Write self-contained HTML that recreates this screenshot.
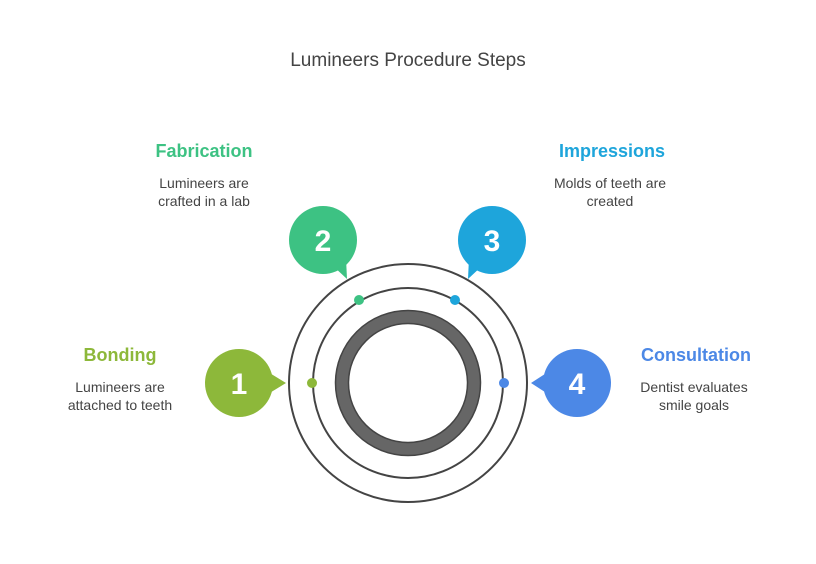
<!DOCTYPE html>
<html><head><meta charset="utf-8"><style>
html,body{margin:0;padding:0;background:#fff;}
svg{display:block;font-family:"Liberation Sans",sans-serif;}
</style></head><body>
<svg width="816" height="564" viewBox="0 0 816 564" xmlns="http://www.w3.org/2000/svg">
<text x="408" y="66" text-anchor="middle" font-size="19" fill="#444">Lumineers Procedure Steps</text>

<circle cx="408" cy="383" r="119" fill="none" stroke="#444" stroke-width="2"/>
<circle cx="408" cy="383" r="95" fill="none" stroke="#444" stroke-width="2"/>
<circle cx="408" cy="383" r="66" fill="none" stroke="#666" stroke-width="13"/>
<circle cx="408" cy="383" r="72.5" fill="none" stroke="#444" stroke-width="1.5"/>
<circle cx="408" cy="383" r="59.5" fill="none" stroke="#444" stroke-width="1.5"/>

<circle cx="312" cy="383" r="5" fill="#8DB83A"/>
<circle cx="359" cy="300" r="5" fill="#3DC283"/>
<circle cx="455" cy="300" r="5" fill="#1EA5DB"/>
<circle cx="504" cy="383" r="5" fill="#4C88E6"/>

<!-- bubble 1 -->
<circle cx="239" cy="383" r="34" fill="#8DB83A"/>
<polygon points="268,372 286,383 268,394" fill="#8DB83A"/>
<text x="239" y="394" text-anchor="middle" font-size="30" font-weight="bold" fill="#fff">1</text>
<!-- bubble 2 -->
<circle cx="323" cy="240" r="34" fill="#3DC283"/>
<polygon points="332,265 347,279 346,258" fill="#3DC283"/>
<text x="323" y="251" text-anchor="middle" font-size="30" font-weight="bold" fill="#fff">2</text>
<!-- bubble 3 -->
<circle cx="492" cy="240" r="34" fill="#1EA5DB"/>
<polygon points="483,265 468,279 469,258" fill="#1EA5DB"/>
<text x="492" y="251" text-anchor="middle" font-size="30" font-weight="bold" fill="#fff">3</text>
<!-- bubble 4 -->
<circle cx="577" cy="383" r="34" fill="#4C88E6"/>
<polygon points="548,372 531,383 548,394" fill="#4C88E6"/>
<text x="577" y="394" text-anchor="middle" font-size="30" font-weight="bold" fill="#fff">4</text>

<text x="120" y="361" text-anchor="middle" font-size="18" font-weight="bold" fill="#8DB83A">Bonding</text>
<text x="120" y="392" text-anchor="middle" font-size="14" fill="#444">Lumineers are</text>
<text x="120" y="410" text-anchor="middle" font-size="14" fill="#444">attached to teeth</text>

<text x="204" y="157" text-anchor="middle" font-size="18" font-weight="bold" fill="#3DC283">Fabrication</text>
<text x="204" y="188" text-anchor="middle" font-size="14" fill="#444">Lumineers are</text>
<text x="204" y="206" text-anchor="middle" font-size="14" fill="#444">crafted in a lab</text>

<text x="612" y="157" text-anchor="middle" font-size="18" font-weight="bold" fill="#1EA5DB">Impressions</text>
<text x="610" y="188" text-anchor="middle" font-size="14" fill="#444">Molds of teeth are</text>
<text x="610" y="206" text-anchor="middle" font-size="14" fill="#444">created</text>

<text x="696" y="361" text-anchor="middle" font-size="18" font-weight="bold" fill="#4C88E6">Consultation</text>
<text x="694" y="392" text-anchor="middle" font-size="14" fill="#444">Dentist evaluates</text>
<text x="694" y="410" text-anchor="middle" font-size="14" fill="#444">smile goals</text>
</svg>
</body></html>
